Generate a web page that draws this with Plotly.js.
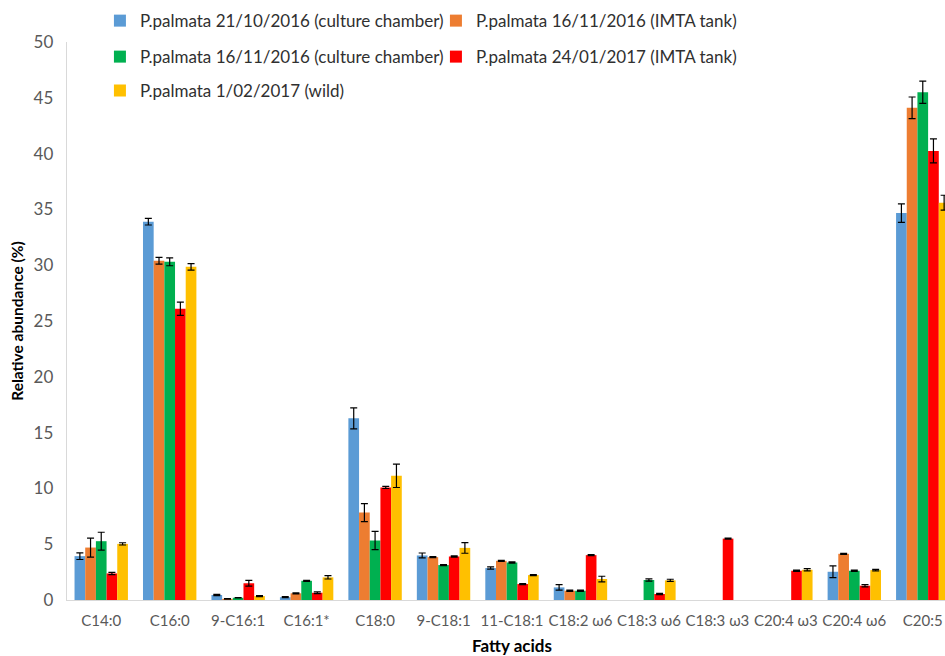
<!DOCTYPE html>
<html>
<head>
<meta charset="utf-8">
<script src="https://cdn.plot.ly/plotly-3.0.1.min.js"></script>
<style>
html, body { margin: 0; padding: 0; overflow: hidden; background: #fff; }
#chart { width: 960px; height: 656px; }
</style>
</head>
<body>
<div id="chart"></div>
<script>
const categories = ["C14:0", "C16:0", "9-C16:1", "C16:1*", "C18:0", "9-C18:1", "11-C18:1",
  "C18:2 \u03c96", "C18:3 \u03c96", "C18:3 \u03c93", "C20:4 \u03c93", "C20:4 \u03c96", "C20:5"];

const seriesNames = [
  "P.palmata 21/10/2016 (culture chamber)",
  "P.palmata 16/11/2016 (IMTA tank)",
  "P.palmata 16/11/2016 (culture chamber)",
  "P.palmata 24/01/2017 (IMTA tank)",
  "P.palmata 1/02/2017 (wild)"
];

// null = fatty acid not detected in that sample (no bar drawn)
const chamber1021 = [3.93, 33.9, 0.45, 0.25, 16.28, 3.99, 2.86, 1.13, null, null, null, 2.53, 34.67];
const chamber1021Err = [0.3, 0.3, 0.05, 0.05, 0.94, 0.22, 0.1, 0.25, null, null, null, 0.52, 0.83];

const imta1116 = [4.7, 30.4, 0.1, 0.6, 7.83, 3.84, 3.51, 0.83, null, null, null, 4.14, 44.1];
const imta1116Err = [0.85, 0.3, 0.02, 0.05, 0.8, 0.05, 0.05, 0.05, null, null, null, 0.05, 0.97];

const chamber1116 = [5.27, 30.3, 0.2, 1.72, 5.33, 3.13, 3.36, 0.83, 1.79, null, null, 2.62, 45.5];
const chamber1116Err = [0.8, 0.35, 0.02, 0.05, 0.82, 0.05, 0.05, 0.05, 0.1, null, null, 0.05, 1.0];

const imta0124 = [2.38, 26.1, 1.5, 0.65, 10.09, 3.9, 1.43, 4.02, 0.54, 5.5, 2.62, 1.28, 40.24];
const imta0124Err = [0.1, 0.6, 0.25, 0.08, 0.1, 0.05, 0.05, 0.05, 0.05, 0.05, 0.05, 0.1, 1.08];

const wild0201 = [5.03, 29.85, 0.35, 2.03, 11.13, 4.67, 2.23, 1.88, 1.76, null, 2.71, 2.68, 35.6];
const wild0201Err = [0.1, 0.3, 0.05, 0.15, 1.05, 0.48, 0.05, 0.25, 0.1, null, 0.1, 0.07, 0.67];

const colors = ["#5B9BD5", "#ED7D31", "#00B050", "#FF0000", "#FFC000"];
const values = [chamber1021, imta1116, chamber1116, imta0124, wild0201];
const errors = [chamber1021Err, imta1116Err, chamber1116Err, imta0124Err, wild0201Err];
const legendIds = ["legend", "legend", "legend2", "legend2", "legend3"];

const traces = values.map((v, i) => ({
  type: "bar",
  name: seriesNames[i],
  x: categories,
  y: v,
  marker: { color: colors[i], line: { width: 0 } },
  error_y: { type: "data", array: errors[i], visible: true, color: "#000000", thickness: 1.2, width: 3.5 },
  legend: legendIds[i],
  hoverinfo: "x+y+name"
}));

const fam = "Lato, 'Open Sans', sans-serif";
const legendFont = { family: fam, size: 17, color: "#303030" };
const legendBase = {
  orientation: "h", xanchor: "left", yanchor: "middle",
  font: legendFont, bgcolor: "rgba(0,0,0,0)", borderwidth: 0,
  entrywidth: 291, entrywidthmode: "pixels", itemclick: false, itemdoubleclick: false
};

const layout = {
  width: 960,
  height: 656,
  margin: { l: 67, r: 3, t: 40, b: 56 },
  paper_bgcolor: "#ffffff",
  plot_bgcolor: "#ffffff",
  barmode: "group",
  bargap: 0.22,
  bargroupgap: 0,
  font: { family: fam, color: "#595959" },
  xaxis: {
    type: "category",
    showline: true, linecolor: "#D9D9D9", linewidth: 1.3,
    ticks: "", showgrid: false, zeroline: false,
    tickangle: 0,
    automargin: false,
    ticklabelstandoff: 7,
    tickfont: { family: fam, size: 15, color: "#595959" },
    title: { text: "<b>Fatty acids</b>", font: { family: fam, size: 17, color: "#000000" }, standoff: 13 }
  },
  yaxis: {
    range: [0, 50],
    dtick: 5,
    showline: true, linecolor: "#D9D9D9", linewidth: 1.3,
    ticks: "", showgrid: false, zeroline: false,
    automargin: false,
    ticklabelstandoff: 9,
    tickfont: { family: fam, size: 17, color: "#595959" },
    title: { text: "<b>Relative abundance (%)</b>", font: { family: fam, size: 15.5, color: "#000000" }, standoff: 6 }
  },
  legend: Object.assign({}, legendBase, { x: 0.037, y: 1.0375 }),
  legend2: Object.assign({}, legendBase, { x: 0.037, y: 0.973 }),
  legend3: Object.assign({}, legendBase, { x: 0.037, y: 0.9125 }),
  showlegend: true
};

Plotly.newPlot("chart", traces, layout, { displayModeBar: false, staticPlot: true });
</script>
</body>
</html>
